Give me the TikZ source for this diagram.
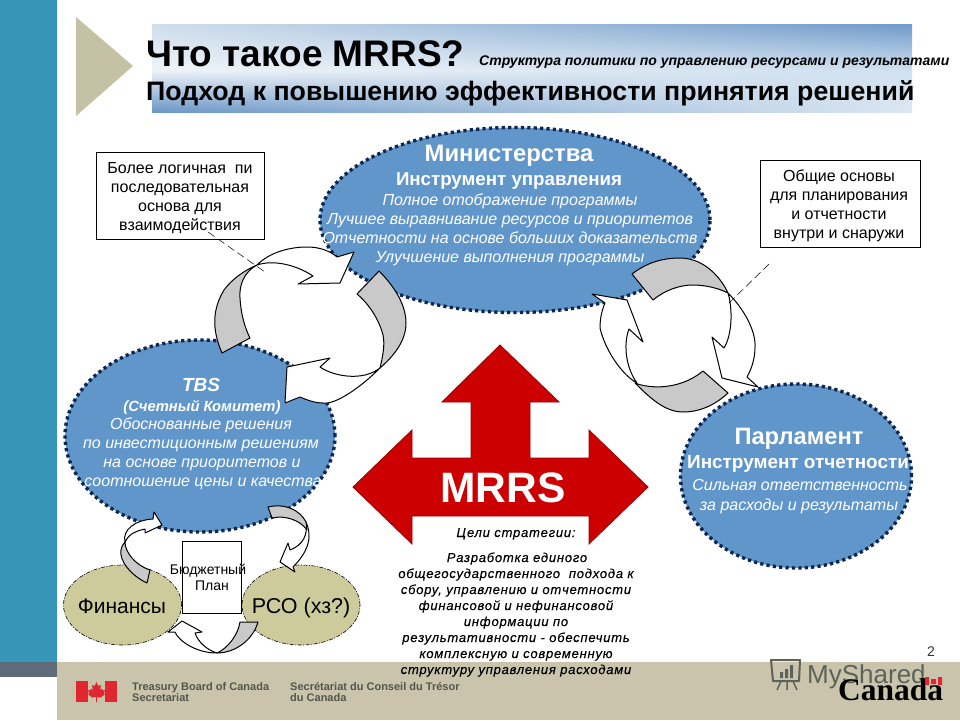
\documentclass[tikz,border=0pt]{standalone}
\usepackage{fontspec}
\setmainfont{Liberation Sans}
\newfontfamily\canadafont{Liberation Serif}
\usetikzlibrary{shapes.geometric, shadings}
\definecolor{stripteal}{HTML}{3596B8}
\definecolor{stripgray}{HTML}{5F6B78}
\definecolor{footbeige}{HTML}{C9C4AB}
\definecolor{trianglebeige}{HTML}{C5C1A5}
\definecolor{ellblue}{HTML}{6196CB}
\definecolor{elldot}{HTML}{0F2650}
\definecolor{ellolive}{HTML}{CDCA9C}
\definecolor{arrowred}{HTML}{CC0000}
\definecolor{cyclegray}{HTML}{C9C9C9}
\definecolor{footertext}{HTML}{55554C}
\definecolor{flagred}{HTML}{E0262E}
\definecolor{watermark}{HTML}{5E635A}
\definecolor{bandtl}{HTML}{CFDEEC}
\definecolor{bandtr}{HTML}{6F9ACA}
\definecolor{bandml}{HTML}{EEF3F8}
\definecolor{bandmr}{HTML}{CFE0EF}
\definecolor{bandbl}{HTML}{6A96C6}
\definecolor{bandbr}{HTML}{DCE7F2}
\tikzset{
  actor/.style={ellipse, draw=elldot, fill=ellblue, line width=3.4pt, dash pattern=on 3.2pt off 3.2pt, inner sep=0pt},
  source/.style={ellipse, draw=black, fill=ellolive, line width=0.6pt, dash pattern=on 4pt off 1.5pt on 1pt off 1.5pt, inner sep=0pt, minimum width=118pt, minimum height=80pt},
  note/.style={rectangle, draw=black, fill=white, line width=0.8pt, inner sep=0pt},
  line/.style={anchor=base, inner sep=0pt},
  whiteline/.style={line, text=white},
  itemline/.style={whiteline, font=\fontsize{16}{19}\itshape\selectfont},
  noteline/.style={line, font=\fontsize{16}{19}\selectfont},
  goalline/.style={line, font=\fontsize{13}{15}\itshape\addfontfeatures{LetterSpace=6,FakeBold=0.25}\selectfont},
  leader/.style={draw=black, line width=0.5pt, dash pattern=on 8pt off 4pt},
  cyclewhite/.style={draw=black, fill=white, line width=1pt, line join=round},
  cyclegrey/.style={draw=black, fill=cyclegray, line width=1pt, line join=round},
}
\begin{document}
\begin{tikzpicture}[x=1pt, y=-1pt]
  \useasboundingbox (0, 0) rectangle (960, 720);
  % page frame
  \fill[stripteal] (0, 0) rectangle (57, 662);
  \fill[stripgray] (0, 662) rectangle (57, 677);
  \fill[footbeige] (57, 662) rectangle (960, 720);
  \fill[trianglebeige] (76, 17) -- (133, 66) -- (76, 116) -- cycle;

  % title band
  \shade[shading=bilinear interpolation, lower left=bandml, upper left=bandtl, upper right=bandtr, lower right=bandmr] (152, 24) rectangle (912, 70);
  \shade[shading=bilinear interpolation, upper left=bandml, lower left=bandbl, upper right=bandmr, lower right=bandbr] (152, 70) rectangle (912, 112);
  \node[line, anchor=base west, font=\fontsize{37}{42}\bfseries\selectfont] (title) at (146, 66) {Что такое MRRS?};
  \node[line, anchor=base west, font=\fontsize{14}{16}\bfseries\itshape\selectfont] (subtitle) at (479, 65) {Структура политики по управлению ресурсами и результатами};
  \node[line, anchor=base west, font=\fontsize{26.7}{30}\bfseries\selectfont] (approach) at (146, 100) {Подход к повышению эффективности принятия решений};

  % actors
  \node[actor, minimum width=390pt, minimum height=185pt] (ministry) at (515, 220) {};
  \node[actor, minimum width=270pt, minimum height=192pt] (tbs) at (200, 436) {};
  \node[actor, minimum width=231pt, minimum height=184pt] (parliament) at (796, 476) {};
  \node[source] (finance) at (122.5, 605) {};
  \node[source] (rco) at (301, 605) {};

  % ministry text
  \node[whiteline, font=\fontsize{23.8}{26}\bfseries\selectfont] (min1) at (509, 161) {Министерства};
  \node[whiteline, font=\fontsize{18.7}{21}\bfseries\selectfont] (min2) at (509, 185) {Инструмент управления};
  \node[itemline] (min3) at (510, 205) {Полное отображение программы};
  \node[itemline] (min4) at (510, 224) {Лучшее выравнивание ресурсов и приоритетов};
  \node[itemline] (min5) at (510, 243) {Отчетности на основе больших доказательств};
  \node[itemline] (min6) at (510, 262) {Улучшение выполнения программы};

  % tbs text
  \node[whiteline, font=\fontsize{19}{22}\bfseries\itshape\selectfont] (tbs1) at (201, 391) {TBS};
  \node[whiteline, font=\fontsize{14.8}{17}\bfseries\itshape\selectfont] (tbs2) at (202, 411) {(Счетный Комитет)};
  \node[itemline] (tbs3) at (201, 429) {Обоснованные решения};
  \node[itemline] (tbs4) at (201, 448) {по инвестиционным решениям};
  \node[itemline] (tbs5) at (202, 467) {на основе приоритетов и};
  \node[itemline] (tbs6) at (203, 486) {соотношение цены и качества};

  % parliament text
  \node[whiteline, font=\fontsize{23.7}{26}\bfseries\selectfont] (par1) at (799, 444) {Парламент};
  \node[whiteline, font=\fontsize{18.9}{21}\bfseries\selectfont] (par2) at (798, 468) {Инструмент отчетности};
  \node[itemline] (par3) at (800, 490) {Сильная ответственность};
  \node[itemline] (par4) at (799, 510) {за расходы и результаты};

  % cycle arrows, ministry and tbs
  \draw[cyclewhite] (257, 265) .. controls (270, 252) and (290, 247) .. (307, 247) .. controls (320, 247) and (330, 251) .. (337, 257) -- (354, 252) -- (340, 283) -- (298, 284) -- (313, 276) .. controls (298, 266) and (275, 259) .. cycle;
  \draw[cyclegrey] (222, 353) .. controls (212, 330) and (212, 310) .. (224, 290) .. controls (232, 279) and (245, 270) .. (257, 265) .. controls (244, 272) and (239, 285) .. (240, 298) .. controls (241, 315) and (245, 328) .. (250, 338) -- cycle;
  \draw[cyclewhite] (380, 368) .. controls (360, 388) and (335, 405) .. (323, 403) .. controls (315, 403) and (307, 400) .. (300, 397) -- (285, 403) -- (287, 367) -- (330, 358) -- (320, 367) .. controls (333, 376) and (362, 382) .. cycle;
  \draw[cyclegrey] (379, 271) .. controls (398, 290) and (406, 308) .. (406, 323) .. controls (406, 340) and (395, 355) .. (380, 368) .. controls (383, 355) and (385, 345) .. (383, 335) .. controls (379, 320) and (370, 305) .. (357, 294) -- cycle;

  % cycle arrows, ministry and parliament
  \draw[cyclewhite] (728, 293) .. controls (745, 310) and (756, 332) .. (755, 347) .. controls (755, 358) and (752, 368) .. (747, 377) -- (758, 387) -- (722, 378) -- (712, 337) -- (724, 348) .. controls (732, 335) and (733, 310) .. cycle;
  \draw[cyclegrey] (632, 274) .. controls (645, 264) and (660, 258) .. (680, 258) .. controls (700, 258) and (718, 272) .. (728, 293) .. controls (718, 288) and (705, 285) .. (693, 285) .. controls (680, 285) and (665, 290) .. (653, 300) -- cycle;
  \draw[cyclewhite] (592, 294) -- (627, 300) -- (643, 342) -- (629, 329) .. controls (623, 345) and (626, 368) .. (637, 383) .. controls (622, 375) and (605, 350) .. (600, 328) .. controls (600, 318) and (602, 310) .. (605, 303) -- cycle;
  \draw[cyclegrey] (635, 383) .. controls (650, 389) and (680, 390) .. (703, 371) -- (728, 393) .. controls (715, 405) and (700, 412) .. (683, 412) .. controls (665, 412) and (650, 398) .. cycle;

  % small cycle arrows
  \draw[cyclewhite] (125, 542) .. controls (122, 530) and (135, 520) .. (153, 519) -- (154, 512) -- (162, 525) -- (145, 533) -- (145, 529) .. controls (135, 531) and (128, 535) .. cycle;
  \draw[cyclegrey] (147, 583) .. controls (130, 575) and (119, 560) .. (121, 550) .. controls (122, 546) and (123, 544) .. (125, 542) .. controls (125, 552) and (135, 565) .. (150, 570) -- cycle;
  \draw[cyclewhite] (306, 522) .. controls (312, 535) and (310, 550) .. (293, 567) -- (295, 572) -- (280, 562) -- (288, 543) -- (290, 550) .. controls (303, 545) and (308, 535) .. cycle;
  \draw[cyclegrey] (268, 507) .. controls (285, 503) and (300, 510) .. (306, 522) -- (307, 530) .. controls (300, 520) and (285, 515) .. (272, 518) -- cycle;
  \draw[cyclewhite] (217, 653) .. controls (195, 653) and (178, 640) .. (175, 632) -- (168, 632) -- (182, 621) -- (202, 632) -- (195, 633) .. controls (198, 642) and (207, 650) .. cycle;
  \draw[cyclegrey] (258, 622) .. controls (253, 640) and (235, 653) .. (217, 653) .. controls (228, 648) and (238, 635) .. (240, 622) -- cycle;

  % budget box
  \node[note, minimum width=59pt, minimum height=72pt] (budget) at (211.5, 577) {};
  \node[line, font=\fontsize{14}{16}\selectfont] (budget1) at (208, 574) {Бюджетный};
  \node[line, font=\fontsize{14}{16}\selectfont] (budget2) at (212, 590) {План};
  \node[line, font=\fontsize{21}{24}\selectfont] (financetext) at (122, 613) {Финансы};
  \node[line, font=\fontsize{21.5}{24}\selectfont, text=black] (rcotext) at (301, 613) {РСО (хз?)};

  % notes
  \node[note, minimum width=168pt, minimum height=87pt] (noteleft) at (180, 195.5) {};
  \node[noteline] (left1) at (180, 173) {Более логичная\ \ пи};
  \node[noteline] (left2) at (180, 192) {последовательная};
  \node[noteline] (left3) at (180, 211) {основа для};
  \node[noteline] (left4) at (180, 230) {взаимодействия};
  \coordinate (leftstart) at (208, 232);
  \coordinate (leftend) at (265, 272);
  \draw[leader] (leftstart) -- (leftend);
  \node[note, minimum width=160pt, minimum height=87pt] (noteright) at (840, 203.5) {};
  \node[noteline] (right1) at (839, 181) {Общие основы};
  \node[noteline] (right2) at (839, 200) {для планирования};
  \node[noteline] (right3) at (839, 219) {и отчетности};
  \node[noteline] (right4) at (839, 238) {внутри и снаружи};
  \coordinate (rightstart) at (769, 264);
  \coordinate (rightend) at (728, 304);
  \draw[leader] (rightstart) -- (rightend);

  % mrrs arrow
  \draw[fill=arrowred, draw=arrowred!75!black, line width=0.8pt, line join=miter] (500, 345) -- (559, 402) -- (530, 402) -- (530, 458) -- (589, 458) -- (589, 430) -- (648, 487) -- (589, 544) -- (589, 516) -- (412, 516) -- (412, 544) -- (353, 487) -- (412, 430) -- (412, 458) -- (471, 458) -- (471, 402) -- (442, 402) -- cycle;
  \node[whiteline, font=\fontsize{42.5}{50}\bfseries\selectfont] (mrrs) at (503, 502) {MRRS};

  % goal text
  \node[goalline] (goalhead) at (516, 537) {Цели стратегии:};
  \node[goalline] (goal1) at (517, 562) {Разработка единого};
  \node[goalline] (goal2) at (516, 578) {общегосударственного\ \ подхода к};
  \node[goalline] (goal3) at (516, 594) {сбору, управлению и отчетности};
  \node[goalline] (goal4) at (516, 610) {финансовой и нефинансовой};
  \node[goalline] (goal5) at (516, 626) {информации по};
  \node[goalline] (goal6) at (516, 642) {результативности - обеспечить};
  \node[goalline] (goal7) at (516, 658) {комплексную и современную};
  \node[goalline] (goal8) at (516, 674) {структуру управления расходами};

  % footer
  \fill[flagred] (76, 681) rectangle (88, 702);
  \fill[flagred] (105, 681) rectangle (117, 702);
  \fill[flagred] (96.5, 682) -- (98.5, 686) -- (101, 685) -- (100, 690) -- (102, 688.5) -- (103, 690.5) -- (105, 690) -- (104, 693) -- (105, 694) -- (101, 697.5) -- (97, 697) -- (97, 702) -- (96, 702) -- (96, 697) -- (92, 697.5) -- (88, 694) -- (89, 693) -- (88, 690) -- (90, 690.5) -- (91, 688.5) -- (93, 690) -- (92, 685) -- (94.5, 686) -- cycle;
  \node[line, anchor=base west, text=footertext, font=\fontsize{11}{12}\bfseries\selectfont] (tb1) at (132, 690) {Treasury Board of Canada};
  \node[line, anchor=base west, text=footertext, font=\fontsize{11}{12}\bfseries\selectfont] (tb2) at (132, 701) {Secretariat};
  \node[line, anchor=base west, text=footertext, font=\fontsize{11}{12}\bfseries\selectfont] (sc1) at (290, 690) {Secrétariat du Conseil du Trésor};
  \node[line, anchor=base west, text=footertext, font=\fontsize{11}{12}\bfseries\selectfont] (sc2) at (290, 701) {du Canada};
  \node[line, font=\fontsize{14}{16}\selectfont, text=black!80] (pagenum) at (931, 656) {2};

  % watermark and wordmark
  \draw[watermark, line width=2pt, line join=round] (771, 660) -- (800, 660) -- (799, 681) -- (773, 681) -- cycle;
  \fill[watermark] (780, 672) rectangle (783, 678) (785, 669) rectangle (788, 678) (790, 665) rectangle (793, 678);
  \draw[watermark, line width=1.5pt] (781, 681) -- (777, 690) (787, 681) -- (787, 690) (793, 681) -- (797, 690);
  \node[line, anchor=base west, text=watermark, font=\fontsize{26}{30}\selectfont] (myshared) at (807, 683) {MyShared};
  \node[line, anchor=base west, text=black, font=\fontsize{31.5}{36}\canadafont\bfseries\selectfont] (canada) at (838, 700) {Canada};
  \fill[flagred] (925, 677) rectangle (929, 685) (931, 679) rectangle (936, 684) (938, 677) rectangle (942, 685);
\end{tikzpicture}
\end{document}
